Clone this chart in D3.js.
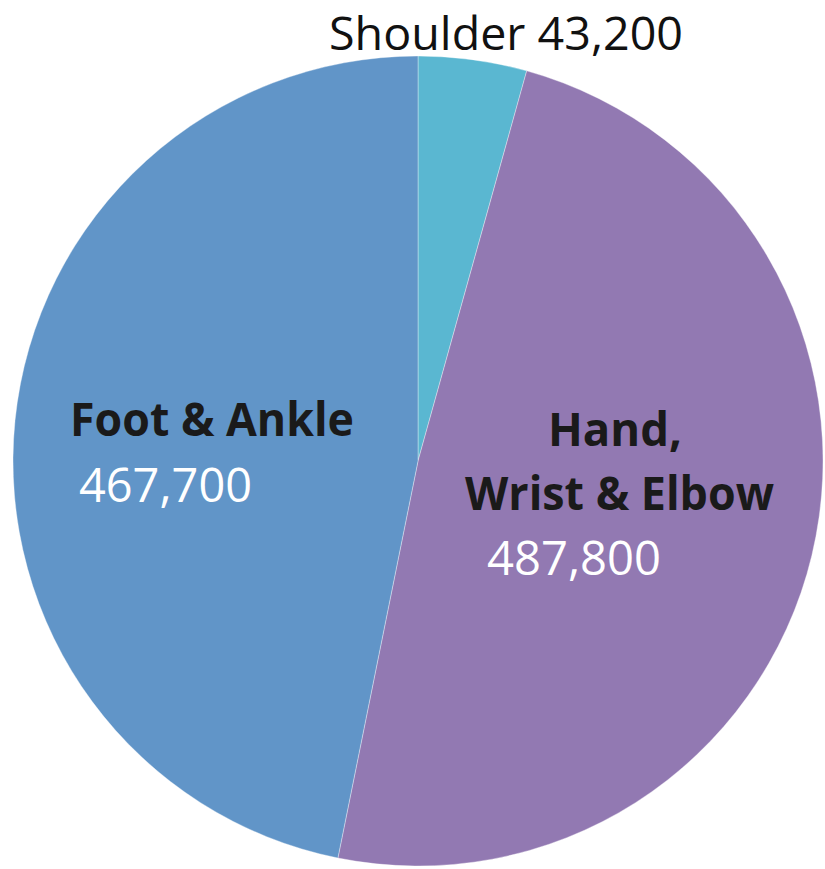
<!DOCTYPE html>
<html>
<head>
<meta charset="utf-8">
<script src="https://cdn.jsdelivr.net/npm/d3@7"></script>
<style>
  html, body { margin: 0; padding: 0; background: #fff; }
  svg { display: block; }
</style>
</head>
<body>
<script>
// Data
const categories = ["Shoulder", "Hand, Wrist & Elbow", "Foot & Ankle"];
const values = [43200, 487800, 467700];
const colors = ["#5ab7d1", "#9279b2", "#6195c8"];

const width = 825;
const height = 869;
const cx = 418, cy = 461, radius = 405;

const svg = d3.select("body")
    .append("svg")
    .attr("width", width)
    .attr("height", height);

const g = svg.append("g").attr("transform", `translate(${cx},${cy})`);

// Pie layout, clockwise from 12 o'clock, keep data order
const pie = d3.pie().sort(null).value(d => d)(values);
const arc = d3.arc().innerRadius(0).outerRadius(radius);

g.selectAll("path")
    .data(pie)
    .enter()
    .append("path")
    .attr("d", arc)
    .attr("fill", (d, i) => colors[i])
    .attr("stroke", "rgba(255,255,255,0.35)")
    .attr("stroke-width", 1);

const fmt = d3.format(",");
const font = "'Open Sans', 'DejaVu Sans', sans-serif";

// label lines: text, x, baseline, target width, size, bold, colour
const labels = [
    { t: `${categories[0]} ${fmt(values[0])}`, x: 329, y: 50, w: 354, s: 46, b: false, c: "#111" },
    { t: "Foot & Ankle", x: 70, y: 436, w: 284, s: 47, b: true, c: "#1a1a1a" },
    { t: fmt(values[2]), x: 79, y: 502, w: 173, s: 47, b: false, c: "#fff" },
    { t: "Hand,", x: 548, y: 446, w: 134, s: 47, b: true, c: "#1a1a1a" },
    { t: "Wrist & Elbow", x: 465, y: 510, w: 309, s: 47, b: true, c: "#1a1a1a" },
    { t: fmt(values[1]), x: 487, y: 575, w: 174, s: 47, b: false, c: "#fff" }
];

svg.selectAll("text.lbl")
    .data(labels)
    .enter()
    .append("text")
    .attr("class", "lbl")
    .attr("x", d => d.x)
    .attr("y", d => d.y)
    .attr("font-family", font)
    .attr("font-size", d => d.s)
    .attr("font-weight", d => d.b ? "bold" : "normal")
    .attr("fill", d => d.c)
    .attr("textLength", d => d.w)
    .attr("lengthAdjust", "spacingAndGlyphs")
    .text(d => d.t);
</script>
</body>
</html>
